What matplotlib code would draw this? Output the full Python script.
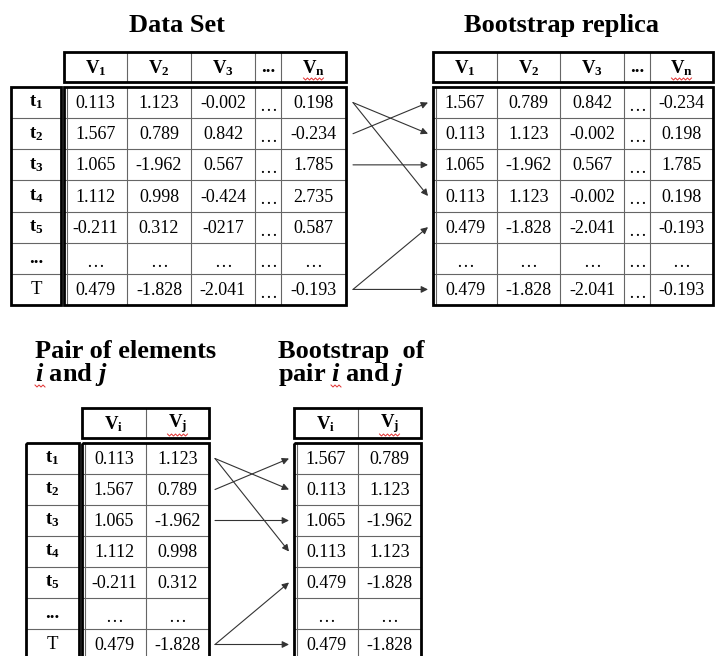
import matplotlib
matplotlib.use("Agg")
import matplotlib.pyplot as plt
from matplotlib.patches import Rectangle

plt.rcParams['font.family'] = 'Liberation Serif'
plt.rcParams['mathtext.fontset'] = 'custom'
plt.rcParams['mathtext.rm'] = 'Liberation Serif:bold'
plt.rcParams['mathtext.it'] = 'Liberation Serif:italic:bold'
plt.rcParams['mathtext.bf'] = 'Liberation Serif:bold'

# ---- data ----
full_headers = ['V$_1$', 'V$_2$', 'V$_3$', '...', 'V$_\\mathrm{n}$']
pair_headers = ['V$_\\mathrm{i}$', 'V$_\\mathrm{j}$']
row_labels = ['t$_1$', 't$_2$', 't$_3$', 't$_4$', 't$_5$', '...', 'T']

v1 = ['0.113', '1.567', '1.065', '1.112', '-0.211', '…', '0.479']
v2 = ['1.123', '0.789', '-1.962', '0.998', '0.312', '…', '-1.828']
v3 = ['-0.002', '0.842', '0.567', '-0.424', '-0217', '…', '-2.041']
v_dots = ['…'] * 7
vn = ['0.198', '-0.234', '1.785', '2.735', '0.587', '…', '-0.193']

# which original row ends up in each row of the bootstrap replica
resample_idx = [1, 0, 2, 0, 6, 5, 6]

full_cols = [v1, v2, v3, v_dots, vn]
pair_cols = [v1, v2]

# ---- layout (pixel units) ----
W, H = 715, 656
fig = plt.figure(figsize=(W / 100, H / 100), dpi=100)
ax = fig.add_axes([0, 0, 1, 1])
ax.set_xlim(0, W)
ax.set_ylim(H, 0)
ax.axis('off')

THICK = 2.0
THIN = 0.8
GRID = '#666666'
CELL_FS = 13
HEAD_FS = 13.5
TITLE_FS = 19


def squiggle(x0, x1, y):
    # red spell-check wave under a word
    xs = [x0 + 2 * k for k in range(int((x1 - x0) / 2) + 1)]
    ys = [y + (1 if k % 2 else -1) for k in range(len(xs))]
    ax.plot(xs, ys, color='#e03030', lw=0.7, zorder=4)


def grid_box(xs, y0, y1, nrows, double_left=False):
    ax.add_patch(Rectangle((xs[0], y0), xs[-1] - xs[0], y1 - y0, fill=False,
                           lw=THICK, ec='black', zorder=3))
    for x in xs[1:-1]:
        ax.plot([x, x], [y0, y1], color=GRID, lw=THIN, zorder=2)
    h = (y1 - y0) / nrows
    for r in range(1, nrows):
        ax.plot([xs[0], xs[-1]], [y0 + r * h] * 2, color=GRID, lw=THIN, zorder=2)
    if double_left:
        ax.plot([xs[0] + 3, xs[0] + 3], [y0, y1], color=GRID, lw=THIN, zorder=2)
    return h


def draw_table(xs, head_y, data_y, row_h, headers, cols, label_x=None, order=None):
    nrows = len(cols[0])
    if order is None:
        order = list(range(nrows))
    # header strip
    grid_box(xs, head_y[0], head_y[1], 1)
    for j, name in enumerate(headers):
        xc = (xs[j] + xs[j + 1]) / 2
        ax.text(xc, (head_y[0] + head_y[1]) / 2 + 1, name,
                ha='center', va='center', fontsize=HEAD_FS, fontweight='bold')
        if j == len(headers) - 1:
            squiggle(xc - 10, xc + 10, head_y[1] - 3)
    # data block
    y1 = data_y + row_h * nrows
    grid_box(xs, data_y, y1, nrows, double_left=True)
    for j, col in enumerate(cols):
        for r, src in enumerate(order):
            val = col[src]
            yc = data_y + row_h * (r + 0.5)
            if val == '…':
                yc += 3
            ax.text((xs[j] + xs[j + 1]) / 2, yc + 1, val,
                    ha='center', va='center', fontsize=CELL_FS)
    # row labels
    if label_x is not None:
        grid_box(label_x, data_y, y1, nrows)
        for r, lab in enumerate(row_labels):
            ax.text((label_x[0] + label_x[1]) / 2, data_y + row_h * (r + 0.5), lab,
                    ha='center', va='center', fontsize=HEAD_FS,
                    fontweight='normal' if lab == 'T' else 'bold')


def draw_arrows(x0, x1, data_y, row_h):
    for dest, src in enumerate(resample_idx):
        if row_labels[src] == '...':
            continue
        ys = data_y + row_h * (src + 0.5)
        yd = data_y + row_h * (dest + 0.5)
        ax.annotate('', xy=(x1, yd), xytext=(x0, ys),
                    arrowprops=dict(arrowstyle='-|>', color='#333333', lw=0.8,
                                    mutation_scale=10, shrinkA=0, shrinkB=0))


# top part
top_row_h = (305 - 87) / 7
draw_table([64, 127, 191, 255, 281, 346], (52, 82), 87, top_row_h,
           full_headers, full_cols, label_x=[11, 61])
draw_table([433, 497, 560, 624, 650, 713], (52, 82), 87, top_row_h,
           full_headers, full_cols, order=resample_idx)
draw_arrows(353, 428, 87, top_row_h)

ax.text(177, 32, 'Data Set', ha='center', va='baseline',
        fontsize=TITLE_FS, fontweight='bold')
ax.text(562, 32, 'Bootstrap replica', ha='center', va='baseline',
        fontsize=TITLE_FS, fontweight='bold')

# bottom part
bot_row_h = 31.0
draw_table([82, 146, 209], (408, 438), 443, bot_row_h,
           pair_headers, pair_cols, label_x=[26, 79])
draw_table([294, 358, 421], (408, 438), 443, bot_row_h,
           pair_headers, pair_cols, order=resample_idx)
draw_arrows(215, 289, 443, bot_row_h)

ax.text(35, 358, 'Pair of elements', ha='left', va='baseline',
        fontsize=TITLE_FS, fontweight='bold')
ax.text(35, 381, '$i$ and $j$', ha='left', va='baseline',
        fontsize=TITLE_FS, fontweight='bold')
squiggle(35, 45, 386)
ax.text(278, 358, 'Bootstrap  of', ha='left', va='baseline',
        fontsize=TITLE_FS, fontweight='bold')
ax.text(278, 381, 'pair $i$ and $j$', ha='left', va='baseline',
        fontsize=TITLE_FS, fontweight='bold')
squiggle(331, 341, 386)

fig.savefig('out.png', dpi=100)
